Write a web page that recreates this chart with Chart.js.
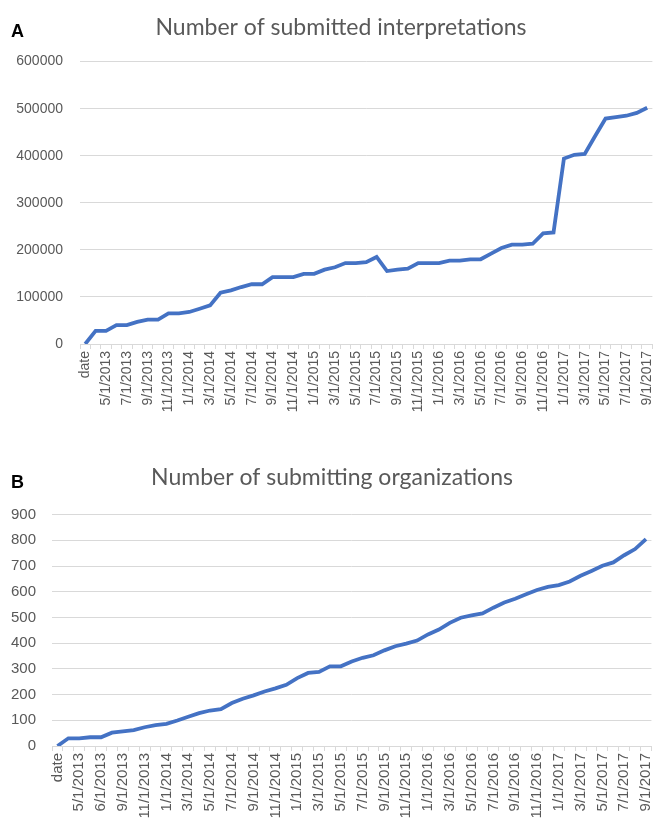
<!DOCTYPE html>
<html>
<head>
<meta charset="utf-8">
<script src="https://cdn.jsdelivr.net/npm/chart.js@4.4.1/dist/chart.umd.min.js"></script>
<style>
  body { margin: 0; background: #fff; width: 666px; height: 828px; overflow: hidden; position: relative; }
  .panel { position: absolute; left: 0; width: 666px; }
  .tag { position: absolute; left: 11px; font: bold 18px "Liberation Sans", Arial, sans-serif; color: #000; }
</style>
</head>
<body>
<div class="panel" style="top:0;height:440px;"><canvas id="chartA" width="666" height="440"></canvas></div>
<div class="panel" style="top:440px;height:388px;"><canvas id="chartB" width="666" height="388"></canvas></div>
<div class="tag" style="top:21px;">A</div>
<div class="tag" style="top:472px;">B</div>
<script>
// categories (monthly snapshots)
const datesA = ["date",
  "4/1/2013", "5/1/2013", "6/1/2013", "7/1/2013", "8/1/2013", "9/1/2013", "10/1/2013", "11/1/2013", "12/1/2013",
  "1/1/2014", "2/1/2014", "3/1/2014", "4/1/2014", "5/1/2014", "6/1/2014", "7/1/2014", "8/1/2014", "9/1/2014", "10/1/2014", "11/1/2014", "12/1/2014",
  "1/1/2015", "2/1/2015", "3/1/2015", "4/1/2015", "5/1/2015", "6/1/2015", "7/1/2015", "8/1/2015", "9/1/2015", "10/1/2015", "11/1/2015", "12/1/2015",
  "1/1/2016", "2/1/2016", "3/1/2016", "4/1/2016", "5/1/2016", "6/1/2016", "7/1/2016", "8/1/2016", "9/1/2016", "10/1/2016", "11/1/2016", "12/1/2016",
  "1/1/2017", "2/1/2017", "3/1/2017", "4/1/2017", "5/1/2017", "6/1/2017", "7/1/2017", "8/1/2017", "9/1/2017"];

const datesB = ["date",
  "4/1/2013", "5/1/2013", "5/15/2013", "6/1/2013", "7/1/2013", "9/1/2013", "10/1/2013", "11/1/2013", "12/1/2013",
  "1/1/2014", "2/1/2014", "3/1/2014", "4/1/2014", "5/1/2014", "6/1/2014", "7/1/2014", "8/1/2014", "9/1/2014", "10/1/2014", "11/1/2014", "12/1/2014",
  "1/1/2015", "2/1/2015", "3/1/2015", "4/1/2015", "5/1/2015", "6/1/2015", "7/1/2015", "8/1/2015", "9/1/2015", "10/1/2015", "11/1/2015", "12/1/2015",
  "1/1/2016", "2/1/2016", "3/1/2016", "4/1/2016", "5/1/2016", "6/1/2016", "7/1/2016", "8/1/2016", "9/1/2016", "10/1/2016", "11/1/2016", "12/1/2016",
  "1/1/2017", "2/1/2017", "3/1/2017", "4/1/2017", "5/1/2017", "6/1/2017", "7/1/2017", "8/1/2017", "9/1/2017"];

// series values
const interpretations = [0,
  28000, 28000, 40000, 40000, 47000, 52000, 52000, 65000, 65000,
  68000, 75000, 82000, 109000, 114000, 121000, 127000, 127000, 142000, 142000, 142000, 149000,
  149000, 158000, 163000, 172000, 172000, 174000, 185000, 155000, 158000, 160000, 172000, 172000,
  172000, 177000, 177000, 180000, 180000, 192000, 204000, 211000, 211000, 213000, 235000, 237000,
  394000, 402000, 404000, 442000, 479000, 482000, 485000, 491000, 502000];

const organizations = [0,
  30, 30, 34, 34, 52, 57, 62, 73, 81,
  86, 99, 114, 128, 138, 143, 167, 184, 197, 212, 224, 238,
  264, 284, 288, 310, 310, 329, 343, 353, 372, 388, 398, 410,
  434, 453, 479, 499, 508, 516, 538, 558, 573, 590, 607, 619,
  626, 640, 662, 681, 701, 714, 742, 766, 805];

// y tick labels
const ticksA = [0, 100000, 200000, 300000, 400000, 500000, 600000];
const ticksB = [0, 100, 200, 300, 400, 500, 600, 700, 800, 900];

const GRID = "#D9D9D9";
const TEXT = "#595959";

function makeChart(id, labels, values, yTicks, opt) {
	return new Chart(id, {
		type: "line",
		data: {
			labels: labels,
			datasets: [
				{
					data: values,
					borderColor: "#4472C4",
					borderWidth: 3.8,
					pointRadius: 0,
					tension: 0,
					fill: false,
				},
			],
		},
		options: {
			responsive: false,
			animation: false,
			layout: { padding: { left: 0, right: 2, top: 0, bottom: 0 } },
			plugins: {
				legend: { display: false },
				tooltip: { enabled: false },
				title: {
					display: true,
					text: opt.title,
					color: TEXT,
					font: { family: "Lato", size: opt.titleSize, weight: "normal" },
					padding: opt.titlePad,
				},
			},
			scales: {
				x: {
					offset: true,
					grid: {
						display: true,
						drawOnChartArea: false,
						drawTicks: true,
						tickLength: 5,
						color: GRID,
						offset: true,
					},
					border: { color: GRID, width: 1 },
					ticks: {
						autoSkip: false,
						minRotation: 90,
						maxRotation: 90,
						padding: 2,
						color: TEXT,
						font: { family: "Liberation Sans", size: opt.tickSize },
						callback: function (value, index) {
							return index % 2 === 0 ? this.getLabelForValue(value) : "";
						},
					},
					afterFit: (s) => { s.height = opt.xHeight; },
				},
				y: {
					min: yTicks[0],
					max: yTicks[yTicks.length - 1],
					afterBuildTicks: (s) => { s.ticks = yTicks.map((v) => ({ value: v })); },
					grid: { color: GRID, drawTicks: false },
					border: { display: false },
					ticks: {
						padding: opt.yPad,
						color: TEXT,
						font: { family: "Liberation Sans", size: opt.tickSize },
						callback: (value) => String(value),
					},
					afterFit: (s) => { s.width = opt.yWidth; },
				},
			},
		},
		plugins: [
			{
				// nudge the title box so it centres a little to the right, like the original
				id: "titleShift",
				afterLayout(chart) {
					if (chart.titleBlock) chart.titleBlock.left = opt.titleLeft;
				},
			},
		],
	});
}

makeChart("chartA", datesA, interpretations, ticksA, {
	title: "Number of submitted interpretations",
	titleSize: 23,
	titlePad: { top: 14, bottom: 20 },
	titleLeft: 18,
	tickSize: 14,
	xHeight: 96,
	yWidth: 80,
	yPad: 17,
});

makeChart("chartB", datesB, organizations, ticksB, {
	title: "Number of submitting organizations",
	titleSize: 23,
	titlePad: { top: 24, bottom: 23 },
	titleLeft: 0,
	tickSize: 15,
	xHeight: 82,
	yWidth: 52,
	yPad: 16,
});
</script>
</body>
</html>
